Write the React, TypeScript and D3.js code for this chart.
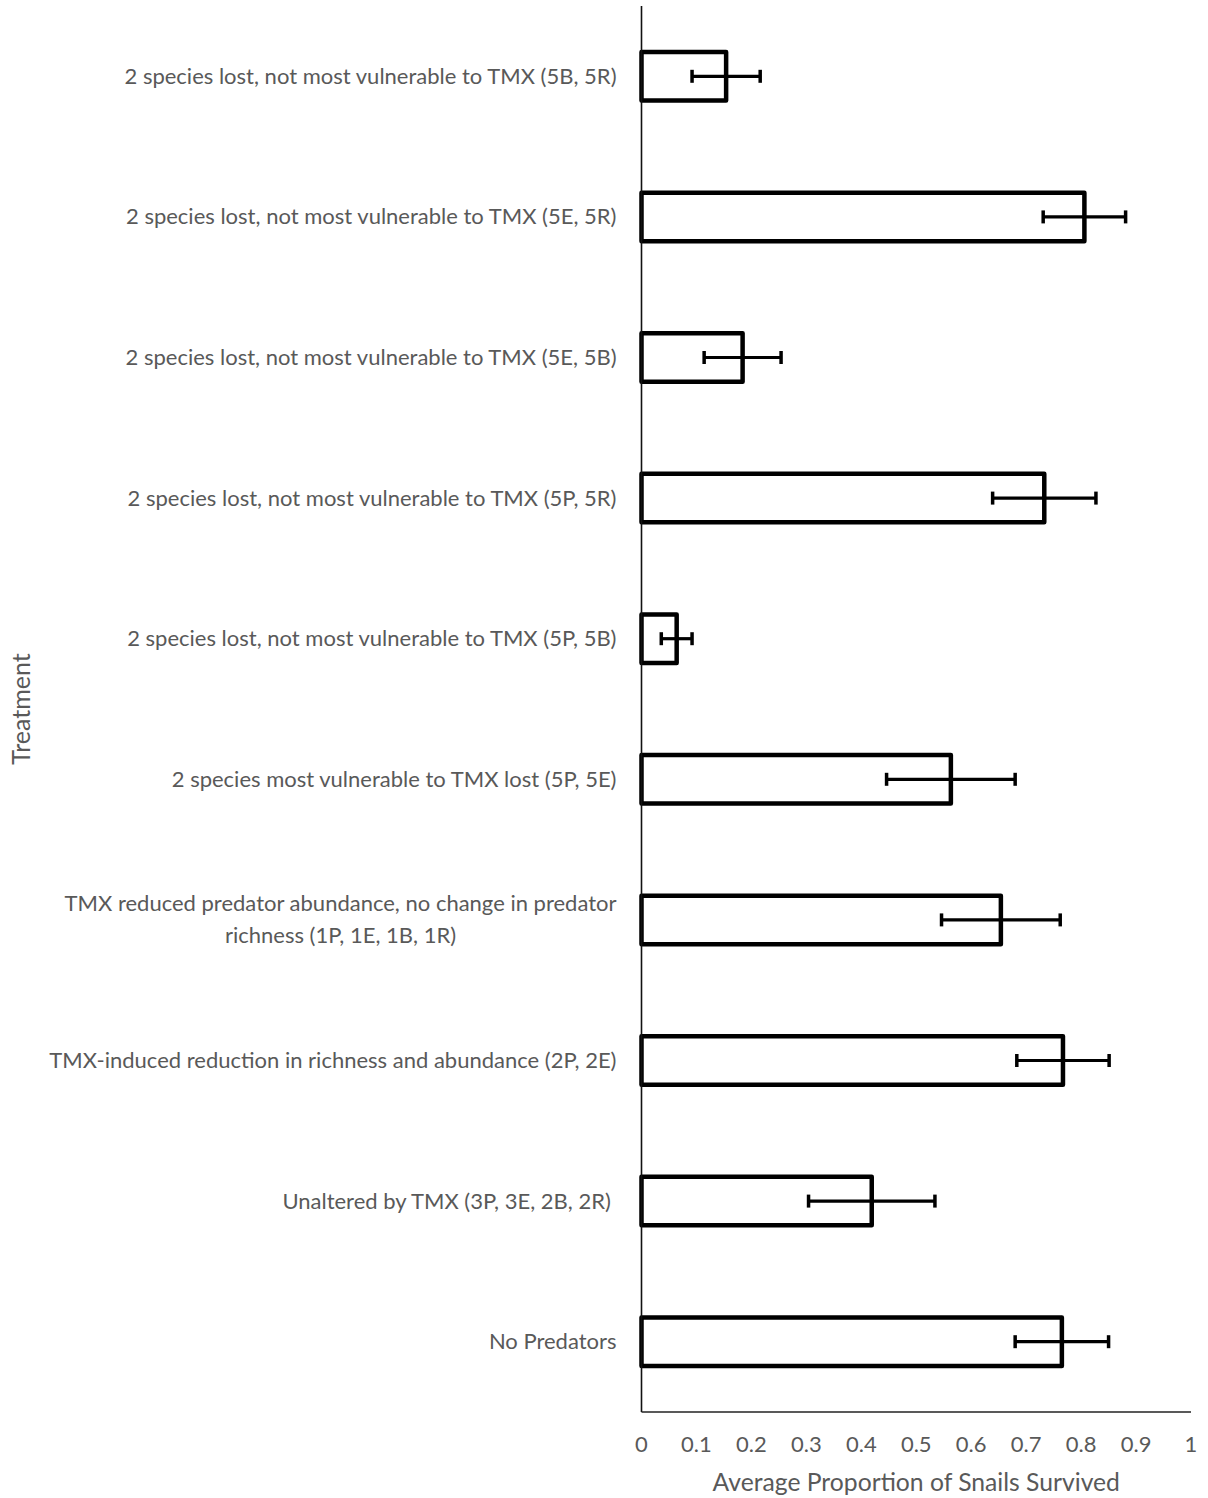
import React, { useEffect, useRef } from "react";
import * as d3 from "d3";

// Treatment labels, top to bottom; "\n" marks a line break in the axis label
const treatments: string[] = [
  "2 species lost, not most vulnerable to TMX (5B, 5R)",
  "2 species lost, not most vulnerable to TMX (5E, 5R)",
  "2 species lost, not most vulnerable to TMX (5E, 5B)",
  "2 species lost, not most vulnerable to TMX (5P, 5R)",
  "2 species lost, not most vulnerable to TMX (5P, 5B)",
  "2 species most vulnerable to TMX lost (5P, 5E)",
  "TMX reduced predator abundance, no change in predator\nrichness (1P, 1E, 1B, 1R)",
  "TMX-induced reduction in richness and abundance (2P, 2E)",
  "Unaltered by TMX (3P, 3E, 2B, 2R) ",
  "No Predators",
];

// Mean proportion of snails surviving per treatment
const meanSurvival: number[] = [0.154, 0.806, 0.184, 0.733, 0.064, 0.563, 0.654, 0.767, 0.419, 0.765];

// Half-width of the error bar per treatment
const errorHalf: number[] = [0.062, 0.075, 0.07, 0.094, 0.028, 0.117, 0.108, 0.084, 0.115, 0.085];

const xTicks: number[] = [0, 0.1, 0.2, 0.3, 0.4, 0.5, 0.6, 0.7, 0.8, 0.9, 1];

const xTitle = "Average Proportion of Snails Survived";
const yTitle = "Treatment";

const W = 1208;
const H = 1498;
const FONT = "Lato, 'Open Sans', sans-serif";
const TEXT = "#595959";

export default function App() {
  const ref = useRef<SVGSVGElement | null>(null);

  useEffect(() => {
    const svg = d3.select(ref.current);
    svg.selectAll("*").remove();

    const plot = { left: 641.5, right: 1191, top: 6, bottom: 1412 };

    const x = d3.scaleLinear().domain([0, 1]).range([plot.left, plot.right]);
    const y = d3
      .scaleBand<string>()
      .domain(treatments)
      .range([plot.top, plot.bottom])
      .paddingInner(0.655)
      .paddingOuter(0.3275);

    const data = treatments.map((t, i) => ({ t, m: meanSurvival[i], e: errorHalf[i] }));

    // bars
    svg
      .append("g")
      .selectAll("rect")
      .data(data)
      .join("rect")
      .attr("x", x(0))
      .attr("y", (d) => y(d.t)!)
      .attr("width", (d) => x(d.m) - x(0))
      .attr("height", y.bandwidth())
      .attr("fill", "#fff")
      .attr("stroke", "#000")
      .attr("stroke-width", 4.5)
      .attr("stroke-linejoin", "round");

    // error bars
    const eb = svg.append("g").attr("stroke", "#000").attr("stroke-width", 3.2);
    data.forEach((d) => {
      const cy = y(d.t)! + y.bandwidth() / 2;
      const x0 = x(d.m - d.e);
      const x1 = x(d.m + d.e);
      eb.append("line").attr("x1", x0).attr("x2", x1).attr("y1", cy).attr("y2", cy);
      [x0, x1].forEach((xx) =>
        eb
          .append("line")
          .attr("x1", xx)
          .attr("x2", xx)
          .attr("y1", cy - 6.5)
          .attr("y2", cy + 6.5)
          .attr("stroke-width", 3.5)
      );
    });

    // axes lines
    svg
      .append("line")
      .attr("x1", plot.left)
      .attr("x2", plot.left)
      .attr("y1", plot.top)
      .attr("y2", plot.bottom)
      .attr("stroke", "#111")
      .attr("stroke-width", 1.6);
    svg
      .append("line")
      .attr("x1", plot.left)
      .attr("x2", plot.right)
      .attr("y1", plot.bottom)
      .attr("y2", plot.bottom)
      .attr("stroke", "#222")
      .attr("stroke-width", 1.6);

    // x tick labels
    svg
      .append("g")
      .selectAll("text")
      .data(xTicks)
      .join("text")
      .attr("x", (d) => x(d))
      .attr("y", 1452)
      .attr("text-anchor", "middle")
      .attr("font-family", FONT)
      .attr("font-size", 22)
      .attr("fill", TEXT)
      .text((d) => d3.format("~g")(d));

    // category labels: block right-aligned to the axis, lines centered within
    const labelRight = plot.left - 25;
    const lg = svg.append("g");
    data.forEach((d) => {
      const lines = d.t.split("\n");
      const cy = y(d.t)! + y.bandwidth() / 2;
      const lh = 32;
      const t = lg
        .append("text")
        .attr("font-family", FONT)
        .attr("font-size", 22)
        .attr("fill", TEXT)
        .attr("text-anchor", "middle")
        .style("white-space", "pre");
      const spans = lines.map((ln, k) =>
        t
          .append("tspan")
          .attr("y", cy + (k - (lines.length - 1) / 2) * lh + 7.5)
          .text(ln)
      );
      const widths = spans.map((s) => (s.node() as SVGTSpanElement).getComputedTextLength());
      const maxW = d3.max(widths) || 0;
      spans.forEach((s) => s.attr("x", labelRight - maxW / 2));
    });

    // axis titles
    svg
      .append("text")
      .attr("x", (plot.left + plot.right) / 2)
      .attr("y", 1491)
      .attr("text-anchor", "middle")
      .attr("font-family", FONT)
      .attr("font-size", 24.7)
      .attr("fill", TEXT)
      .text(xTitle);

    svg
      .append("text")
      .attr("transform", `translate(30, ${(plot.top + plot.bottom) / 2}) rotate(-90)`)
      .attr("text-anchor", "middle")
      .attr("font-family", FONT)
      .attr("font-size", 25)
      .attr("fill", TEXT)
      .text(yTitle);
  }, []);

  return (
    <svg
      ref={ref}
      width={W}
      height={H}
      style={{ position: "absolute", left: 0, top: 0, background: "#fff" }}
    />
  );
}
